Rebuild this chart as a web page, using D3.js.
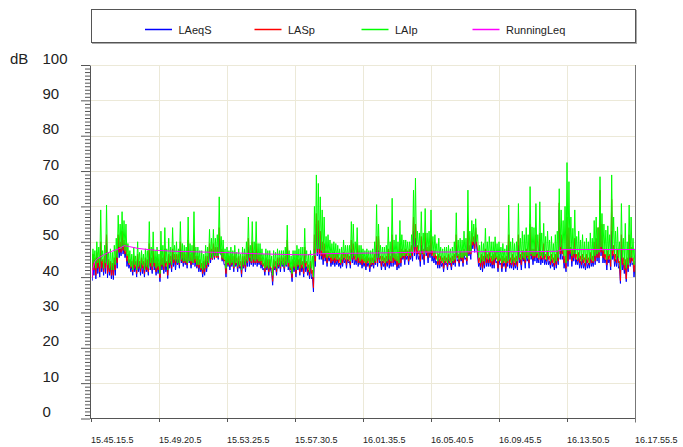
<!DOCTYPE html>
<html><head><meta charset="utf-8">
<script src="https://cdn.jsdelivr.net/npm/d3@7"></script>
<style>
body{margin:0;background:#fff;}
svg{display:block;font-family:"Liberation Sans",Arial,sans-serif;}
</style></head><body>
<svg id="chart" width="683" height="447"></svg>
<script>
// Sound level log from 15.45.15.5, reduced to max/min per 7 s bucket
const bucketSeconds = 7;

const laeqMax = [
  44, 45, 44.5, 45.5, 44.5, 47, 44, 45, 49.5, 44,
  43, 43, 44, 46, 50, 48, 51, 48.5, 47, 45,
  43.5, 43, 44.5, 43, 45, 43.5, 44, 43, 44, 43.5,
  47, 44, 46, 43.5, 44, 42.5, 45, 44, 46, 43,
  45, 44.5, 46.5, 45, 45, 45, 48, 45.5, 45.5, 45,
  48.5, 45, 45, 49, 44.5, 44.5, 43.5, 42.5, 43, 44.5,
  44.5, 47.5, 46.5, 47.5, 47, 47, 51, 46.5, 46, 43.5,
  45.5, 44.5, 45, 44.5, 46, 44, 44.5, 43, 44.5, 44.5,
  45, 48.5, 45.5, 47.5, 45.5, 47, 45, 45, 44, 42.5,
  44, 43.5, 43.5, 41, 43.5, 43, 44, 44, 44.5, 44,
  44.5, 48, 43.5, 41.5, 43.5, 43, 44, 43.5, 44, 43,
  46, 43, 42, 43, 40, 48, 55, 53, 50, 47,
  47.5, 46, 46, 45.5, 45, 45.5, 45, 45, 44, 45,
  45.5, 45, 45, 44.5, 48, 47, 45, 47, 45, 45,
  44.5, 44, 44.5, 44, 44, 44, 45, 49, 47.5, 44.5,
  44.5, 44, 44.5, 46, 44.5, 49, 45.5, 45, 44.5, 47,
  46.5, 46, 46.5, 46, 46.5, 47, 53, 51, 47.5, 46,
  49, 46.5, 50, 47, 47.5, 49, 46, 46, 44.5, 45,
  44.5, 44, 44.5, 44, 45, 44, 44.5, 45, 49, 45,
  46, 45.5, 46.5, 45.5, 52, 47.5, 50.5, 50, 52, 46,
  44, 45, 44.5, 46, 45, 45.5, 44.5, 45, 45.5, 44.5,
  45, 44, 44.5, 44, 44.5, 49, 44, 45, 44, 44.5,
  49, 45, 46, 45.5, 46.5, 45.5, 51, 46.5, 46.5, 49,
  45.5, 49.5, 45.5, 47, 45, 46, 44.5, 45, 44, 45,
  46, 59, 49, 46, 44.5, 52, 50, 47, 46.5, 48,
  45, 45.5, 44.5, 45, 44, 45, 44, 45.5, 44.5, 47,
  48, 50, 60, 50, 46.5, 45, 46, 45, 53, 46.5,
  45, 46, 43, 48, 44, 43.5, 44, 48, 46, 44, 43
];
const laeqMin = [
  39, 40.5, 39.5, 41, 40, 41.5, 40.5, 41, 39.8, 40.5,
  39.5, 39.3, 40.5, 42.5, 45.5, 46, 46.5, 45.5, 43, 42.5,
  41.5, 40.5, 41.5, 40, 41.5, 40.5, 41, 40, 41.5, 40.5,
  42, 41, 42, 40.5, 41, 38.7, 42, 41, 41.5, 39.6,
  42.5, 41.5, 43, 42, 43.5, 42.5, 44, 43, 43.5, 42.5,
  44, 42.5, 43.5, 43, 42.5, 41.5, 41.5, 40, 40.5, 41.5,
  43, 44, 45, 45, 46, 45, 46.5, 44.5, 43.5, 40,
  43, 42, 43, 41.5, 43, 41.5, 42.5, 40, 42.5, 41.5,
  43, 43, 43.5, 43, 43.5, 43, 43.5, 42.5, 42, 40.5,
  42, 40.5, 42, 37.7, 42, 40.5, 42.5, 41.5, 43, 41.5,
  43, 42, 41.5, 38.7, 41.5, 40, 42, 40.5, 41.5, 40,
  41.5, 40.5, 39.5, 39.5, 35.8, 43, 46, 45, 45, 43.5,
  44.5, 43, 44.5, 43, 43.5, 43, 43.5, 43, 42.5, 43,
  44, 42.5, 44, 42.5, 44, 43.5, 43.5, 43, 43.5, 42.5,
  43, 42, 43, 41.5, 43, 42.5, 43.5, 43, 44, 42,
  43, 42, 43, 42.5, 43, 43, 43.5, 42, 42.5, 43,
  45, 43.5, 45, 43.5, 45, 44.5, 46, 45, 45, 43,
  45, 43.5, 46, 44, 45.5, 44.5, 44, 43.5, 42.5, 42.5,
  43, 41.5, 43.5, 42, 43.5, 42, 43.5, 43, 44.5, 43,
  44.5, 43, 45, 43.5, 46, 45, 48, 47, 48.5, 43,
  42, 41.5, 42.5, 43, 43, 43, 42.5, 42.5, 44, 41.5,
  43.5, 41.5, 43, 41.5, 43, 42.5, 42.5, 42, 42.5, 42,
  44, 42, 44.5, 42.5, 44.5, 42.5, 45, 43.5, 44.5, 44,
  44, 43.5, 44, 43.5, 43.5, 43.5, 42.5, 43, 42, 42.5,
  43.5, 45, 45, 42.5, 41.5, 43, 45, 43, 44.5, 43.5,
  43.5, 42.5, 42.5, 42.5, 42, 42.5, 42.5, 43, 43, 43.5,
  44.5, 44, 46, 44, 44, 42, 44, 42, 45, 43,
  43, 42.5, 38.2, 42, 41, 38.7, 41.5, 43, 43.5, 40, 42
];

const laspMax = [
  45, 46.5, 45.5, 47, 45.5, 50, 45, 46, 52, 45,
  44.5, 44, 45.5, 47.5, 52, 50, 53, 50.5, 49.5, 46.5,
  45, 44.5, 46, 44.5, 46.5, 44.5, 45.5, 44.5, 45.5, 45,
  49.5, 45.5, 48, 45, 45.5, 44, 47, 45.5, 48, 44.5,
  46.5, 46, 48, 46.5, 46.5, 46.5, 50, 47, 47, 46.5,
  50.5, 46.5, 46.5, 51, 46, 46, 45, 44, 44.5, 46,
  46, 49.5, 48, 49.5, 48.5, 48.5, 54, 48, 47.5, 45,
  47, 46, 46.5, 46, 47, 45.5, 46, 44.5, 46, 46,
  46.5, 51, 47, 50, 47, 49.5, 46.5, 46.5, 45.5, 44,
  45.5, 45, 45, 42.5, 45, 44.5, 45.5, 45.5, 46, 45.5,
  46, 50.5, 45, 43, 45, 44.5, 45.5, 45, 45.5, 44.5,
  48.5, 44.5, 43.5, 44.5, 42, 52, 58, 56, 53, 50,
  49.5, 47.5, 47.5, 47, 46.5, 47, 46.5, 46.5, 45.5, 46.5,
  47, 46.5, 46.5, 46, 50.5, 49.5, 46.5, 49.5, 46.5, 46.5,
  46, 45.5, 46, 45.5, 45.5, 45.5, 46.5, 51.5, 51.6, 46,
  46, 45.5, 46, 48, 46, 52, 47, 46.5, 46, 49.5,
  48, 47.5, 48, 47.5, 48, 49, 57, 55, 49, 47.5,
  51.5, 48, 52.5, 48.5, 49, 52, 47.5, 47.5, 46, 46.5,
  46, 45.5, 46, 45.5, 46.5, 45.5, 46, 46.5, 52, 46.5,
  47.5, 47, 48, 47, 56, 49, 52.5, 51.5, 54, 47.5,
  45.5, 46.5, 46, 48, 46.5, 47, 46, 46.5, 47, 46,
  46.5, 45.5, 46, 45.5, 46, 52, 45.5, 46.5, 45.5, 46,
  52, 46.5, 47.5, 47, 48, 47, 55, 48, 48, 52,
  47, 52.5, 47, 49.5, 46.5, 47.5, 46, 46.5, 45.5, 46.5,
  47.5, 61, 52, 48, 46, 57, 54, 48.5, 48, 51,
  46.5, 47, 46, 46.5, 45.5, 46.5, 45.5, 47, 46, 50,
  51, 54, 64.6, 55, 48, 46.5, 47.5, 46.5, 62, 49,
  46.5, 48, 44.5, 52, 45.5, 45, 45.5, 52, 48.5, 45.5, 44.5
];
const laspMin = [
  40, 42, 40.5, 42.5, 41.5, 42.5, 41.5, 42.5, 41, 41.5,
  40.5, 40.5, 42, 44, 47, 47, 47.5, 46.5, 44.5, 43.5,
  42.5, 41.5, 42.5, 41, 42.5, 41.5, 42.5, 41, 42, 41.5,
  43, 42, 43, 41.5, 42, 39.8, 43, 42, 43, 40.5,
  43.5, 42.5, 44, 43.5, 44, 43.5, 44.5, 44, 44, 43.5,
  44.5, 43.5, 44, 44, 43, 42.5, 42, 41, 41.5, 42.5,
  43.5, 45, 45, 45.5, 45.5, 45.5, 47, 45, 44.5, 41,
  43.5, 43, 43.5, 42.5, 43.5, 42.5, 43, 41, 43, 42.5,
  44, 44.5, 44, 44, 44, 44, 44, 43.5, 43, 41.5,
  42.5, 41.5, 42.5, 38.8, 42.5, 41.5, 43, 42.5, 43.5, 42.5,
  43.5, 43, 42, 39.8, 42.5, 41, 43, 41.5, 42.5, 41,
  43, 41.5, 40.5, 41, 37, 44.5, 47, 46.5, 46, 45,
  45.5, 44, 45.5, 44, 44.5, 44, 44.5, 44, 43.5, 44,
  45, 43.5, 44.5, 43.5, 45, 45, 44.5, 44, 44, 43.5,
  44, 43, 44, 42.5, 43.5, 43.5, 44, 44, 45, 43,
  44, 43, 44, 43.5, 44, 44, 44.5, 43, 43.5, 44,
  45.5, 45, 46, 44.5, 45.5, 46, 47, 46.5, 46.5, 44.5,
  46.5, 45, 47, 45.5, 46.5, 46, 45.5, 45, 43.5, 43.5,
  44, 42.5, 44, 43, 44, 43, 44, 44, 45.5, 44,
  45, 44, 46, 44.5, 46.5, 46.5, 49, 48, 49.5, 44,
  43, 42.5, 43.5, 44, 44, 44, 43.5, 43.5, 45, 42.5,
  44.5, 42.5, 44, 42.5, 44, 43.5, 43.5, 43, 43.5, 43,
  45, 43.5, 45, 44, 45.5, 44, 46, 45, 45.5, 45.5,
  45, 45, 45, 45, 44.5, 45, 43.5, 44, 43, 43.5,
  44.5, 46.5, 46.5, 44, 42.5, 44.5, 46.5, 44.5, 45.5, 45,
  44.5, 44, 43.5, 44, 43, 44, 43.5, 44, 44, 44.5,
  45.5, 45.5, 47, 45.5, 45, 43.5, 45, 43, 46, 44.5,
  44, 44, 39, 43.5, 42, 39.5, 42.5, 44, 44.5, 41.5, 43
];

const laipMax = [
  46, 48, 47.5, 50, 48.5, 59, 47.5, 49, 60.4, 47,
  48, 47, 49, 51, 57.5, 55, 58.5, 56, 55, 49.5,
  47.5, 46.5, 48.5, 46, 50, 47, 47.5, 46.5, 48, 47.5,
  55.7, 48.5, 52.8, 47.5, 48.5, 46.5, 53, 49, 54, 48,
  51, 48.5, 54, 49, 50, 48, 55.7, 49.5, 49, 48.5,
  57, 49.5, 49, 58.5, 48.5, 48.5, 47.5, 47.5, 46.5, 49,
  48.5, 53.5, 51, 53.5, 51, 52, 62.7, 51.5, 50.5, 48,
  48.5, 47.5, 48.5, 47.5, 49, 47, 48, 46.5, 48.5, 48,
  50, 57, 49, 55.7, 50, 55.7, 49.5, 49.5, 48, 46.5,
  48, 47.5, 47.5, 46, 47.5, 47, 48, 47.5, 47.5, 47.5,
  48.5, 54.7, 47.5, 46, 47.5, 47.5, 49, 48, 48.5, 48.5,
  53.8, 47.5, 46.5, 47.5, 46, 60, 68.9, 66.5, 62.7, 59,
  57, 51.5, 52, 50.5, 49.5, 50, 49.5, 49, 48, 48.5,
  50.5, 49, 49, 49, 55.7, 55, 50, 54, 49, 49,
  48, 47.5, 48, 47.5, 47.5, 48, 50, 60.5, 55, 49,
  48.5, 48.5, 49, 54.2, 50, 62.3, 50.5, 52, 50, 56,
  52, 50.5, 50.5, 50, 50, 52, 64.6, 68, 53, 52.5,
  58.5, 52.5, 59.4, 52.5, 53, 59, 51.5, 52, 49.5, 51,
  48.5, 48, 48.5, 48.5, 49, 48, 48.5, 50, 58.2, 50.5,
  51, 50.5, 53, 51, 64.6, 53, 56, 55, 56.5, 52,
  49, 50, 49.5, 53.8, 50, 51.5, 50, 50, 51.4, 49.5,
  50, 48.5, 49.5, 48, 49, 60.4, 50, 51, 49.5, 50,
  60.8, 51, 53, 52, 54, 52, 65.6, 54.2, 54, 60.8,
  52, 61.3, 52.5, 55.2, 51.5, 53, 50.5, 51.5, 49.5, 52,
  53, 65, 59, 56, 60, 72.4, 67, 57, 53.8, 59,
  51.5, 53, 50.5, 52, 50, 51, 50, 52.5, 51, 56,
  57, 54, 68.4, 58, 55, 53.3, 54.5, 52, 68.9, 57,
  53, 54.2, 50, 60.8, 51, 55.2, 50, 60.4, 57, 51, 48
];
const laipMin = [
  42.5, 44, 42.5, 44, 43, 44.5, 42.5, 44, 43.5, 42.5,
  42, 42, 43.5, 45.5, 48.5, 48, 48.5, 47.5, 46, 44,
  43, 42, 43.5, 42, 43, 42.5, 43.5, 42, 43, 42.5,
  44, 43, 44, 42.5, 43, 41, 43.5, 43, 44, 42,
  44, 43.5, 45, 44.5, 44, 44, 45, 44.5, 44.5, 44,
  44.5, 44.5, 44, 45, 43.5, 43.5, 42.5, 42, 42.5, 43.5,
  44, 45.5, 45.5, 46, 46, 46, 46.5, 45.5, 45, 42.5,
  44, 43.5, 44, 43, 44, 43, 43.5, 42, 43.5, 43.5,
  44.5, 45.5, 44.5, 45, 44.5, 45, 44.5, 44.5, 43.5, 42.5,
  43, 42.5, 43, 40.5, 43, 42.5, 43.5, 43, 43.5, 43,
  43.5, 44, 42.5, 41, 43, 42, 43.5, 42.5, 43.5, 42.5,
  44, 42.5, 41.5, 42.5, 40, 46, 48, 48, 47.5, 46.5,
  46.5, 45.5, 46, 45.5, 45, 45.5, 45, 45, 44, 45,
  45.5, 45, 45, 44.5, 45.5, 46, 45, 45.5, 44.5, 45,
  44.5, 44, 44.5, 43.5, 44, 44, 44.5, 45.5, 45.5, 44.5,
  44.5, 44, 44.5, 45, 44.5, 45.5, 45, 44.5, 44, 45.5,
  46, 46, 46.5, 46, 46, 47, 48.5, 48.5, 47.5, 46.5,
  47.5, 46.5, 47.5, 47, 47, 47.5, 46, 46.5, 44.5, 45.5,
  44.5, 44, 44.5, 44, 44.5, 44, 44.5, 45, 46, 45,
  45.5, 45.5, 46, 45.5, 47, 47, 50, 49.5, 50, 45.5,
  44, 44.5, 44.5, 45.5, 45, 45.5, 44.5, 45, 45.5, 44.5,
  45, 44, 44.5, 44, 44.5, 45, 44, 44.5, 44, 44.5,
  45.5, 45, 45.5, 45, 46, 45, 46.5, 46, 46, 46.5,
  45.5, 46, 45.5, 46, 45, 46, 44.5, 45, 44, 44.5,
  45.5, 48.5, 47.5, 46, 44, 47.5, 47.5, 46, 46.5, 46.5,
  45, 45.5, 44.5, 45, 44, 45, 44, 45, 44.5, 46,
  46.5, 47, 48.5, 47.5, 46.5, 45, 46, 45, 47.5, 46.5,
  45, 45.5, 42, 45.5, 43.5, 42.5, 43.5, 45.5, 45.5, 43.5, 43
];

// Running Leq, seconds from start and dB
const leqTimes = [0, 7, 14, 25, 50, 75, 100, 120, 140, 170, 230, 300, 400, 500, 600, 700, 780, 820, 900, 1000, 1100, 1200, 1300, 1400, 1500, 1600, 1680, 1700, 1800, 1900, 1960];
const leqValues = [38.2, 42.5, 44.5, 45.3, 46.5, 47.3, 48, 48.9, 48.6, 48.1, 47.6, 47.3, 47.1, 46.9, 46.6, 46.4, 46.3, 46.6, 46.7, 46.8, 46.9, 47.1, 47.1, 47.2, 47.2, 47.2, 47.3, 47.8, 47.8, 47.8, 47.8];

const yMajorTicks = [0, 10, 20, 30, 40, 50, 60, 70, 80, 90, 100];
const timeTickSeconds = [0, 245, 490, 735, 980, 1225, 1470, 1715, 1960];
const timeTickLabels = ["15.45.15.5", "15.49.20.5", "15.53.25.5", "15.57.30.5", "16.01.35.5", "16.05.40.5", "16.09.45.5", "16.13.50.5", "16.17.55.5"];
const seriesNames = ["LAeqS", "LASp", "LAIp", "RunningLeq"];
const seriesColors = ["#0000ff", "#ff0000", "#00ff00", "#ff00ff"];

const svg = d3.select("#chart");
const plotLeft = 91, plotRight = 635, plotTop = 65, plotBottom = 418.5;
const x = d3.scaleLinear().domain([0, 1960]).range([plotLeft, plotRight]);
const y = d3.scaleLinear().domain([0, 100]).range([plotBottom, plotTop]);
const gridColor = "#ece9d8";
const axisColor = "#555";

// grid
const grid = svg.append("g");
grid.selectAll("line.h").data(yMajorTicks.filter(v => v > 0)).join("line")
  .attr("x1", plotLeft).attr("x2", plotRight)
  .attr("y1", d => Math.round(y(d)) + 0.5).attr("y2", d => Math.round(y(d)) + 0.5)
  .attr("stroke", gridColor);
grid.selectAll("line.v").data(timeTickSeconds.slice(1, -1)).join("line")
  .attr("x1", d => Math.round(x(d)) + 0.5).attr("x2", d => Math.round(x(d)) + 0.5)
  .attr("y1", plotTop).attr("y2", plotBottom)
  .attr("stroke", gridColor);

// series: each bucket is drawn from its max down to its min
svg.append("clipPath").attr("id", "plotclip").append("rect")
  .attr("x", plotLeft + 1).attr("y", plotTop).attr("width", plotRight - plotLeft - 1).attr("height", plotBottom - plotTop);
const plot = svg.append("g").attr("clip-path", "url(#plotclip)");
const trace = d3.line().x(d => x(d[0])).y(d => y(d[1]));
function envelopePoints(maxArr, minArr) {
  const pts = [];
  maxArr.forEach((v, i) => {
    pts.push([i * bucketSeconds, v]);
    pts.push([i * bucketSeconds + bucketSeconds / 2, minArr[i]]);
  });
  return pts;
}
[[laeqMax, laeqMin], [laspMax, laspMin], [laipMax, laipMin]].forEach((pair, k) => {
  plot.append("path").datum(envelopePoints(pair[0], pair[1]))
    .attr("d", trace)
    .attr("fill", "none")
    .attr("stroke", seriesColors[k])
    .attr("stroke-width", 1);
});
plot.append("path").datum(leqTimes.map((t, i) => [t, leqValues[i]]))
  .attr("d", trace).attr("fill", "none")
  .attr("stroke", seriesColors[3]).attr("stroke-width", 1);

// y axis with 1 dB minor ticks
const yAxis = svg.append("g").attr("transform", `translate(${plotLeft - 1},0)`)
  .call(d3.axisLeft(y).tickValues(d3.range(0, 101)).tickSize(5).tickSizeOuter(0).tickFormat(""));
yAxis.selectAll(".tick line").attr("stroke", axisColor)
  .filter(d => d % 10 === 0).attr("x2", -9);
yAxis.select(".domain").attr("stroke", axisColor);

svg.append("g").selectAll("text").data(yMajorTicks).join("text")
  .attr("x", 42.5).attr("y", d => y(d) - 1.5)
  .attr("font-size", 15).attr("fill", "#222")
  .text(d => d);
svg.append("text").attr("x", 10).attr("y", y(100) - 1.5)
  .attr("font-size", 15).attr("fill", "#222").text("dB");

// x axis
const xAxis = svg.append("g").attr("transform", `translate(0,${Math.floor(plotBottom)})`)
  .call(d3.axisBottom(x).tickValues(timeTickSeconds).tickSize(4).tickSizeOuter(0).tickFormat(""));
xAxis.selectAll("line,path").attr("stroke", axisColor);
svg.append("g").selectAll("text").data(timeTickSeconds).join("text")
  .attr("x", d => x(d)).attr("y", 442.5)
  .attr("font-size", 9).attr("fill", "#222")
  .text((d, i) => timeTickLabels[i]);

// right border
svg.append("line").attr("x1", plotRight + 0.5).attr("x2", plotRight + 0.5)
  .attr("y1", plotTop).attr("y2", plotBottom + 4).attr("stroke", "#777");

// legend
const lg = svg.append("g");
lg.append("rect").attr("x", 92.5).attr("y", 10.5).attr("width", 544).attr("height", 33)
  .attr("fill", "none").attr("stroke", "#aaa");
lg.append("rect").attr("x", 91.5).attr("y", 9.5).attr("width", 544).attr("height", 33)
  .attr("fill", "#fff").attr("stroke", "#555");
const legendX = [145, 254.5, 361.5, 472.5];
seriesNames.forEach((name, i) => {
  lg.append("line").attr("x1", legendX[i]).attr("x2", legendX[i] + 27)
    .attr("y1", 29.5).attr("y2", 29.5)
    .attr("stroke", seriesColors[i]).attr("stroke-width", 1.5);
  lg.append("text").attr("x", legendX[i] + 33.5).attr("y", 34)
    .attr("font-size", 11).attr("fill", "#222").text(name);
});
</script>
</body></html>
